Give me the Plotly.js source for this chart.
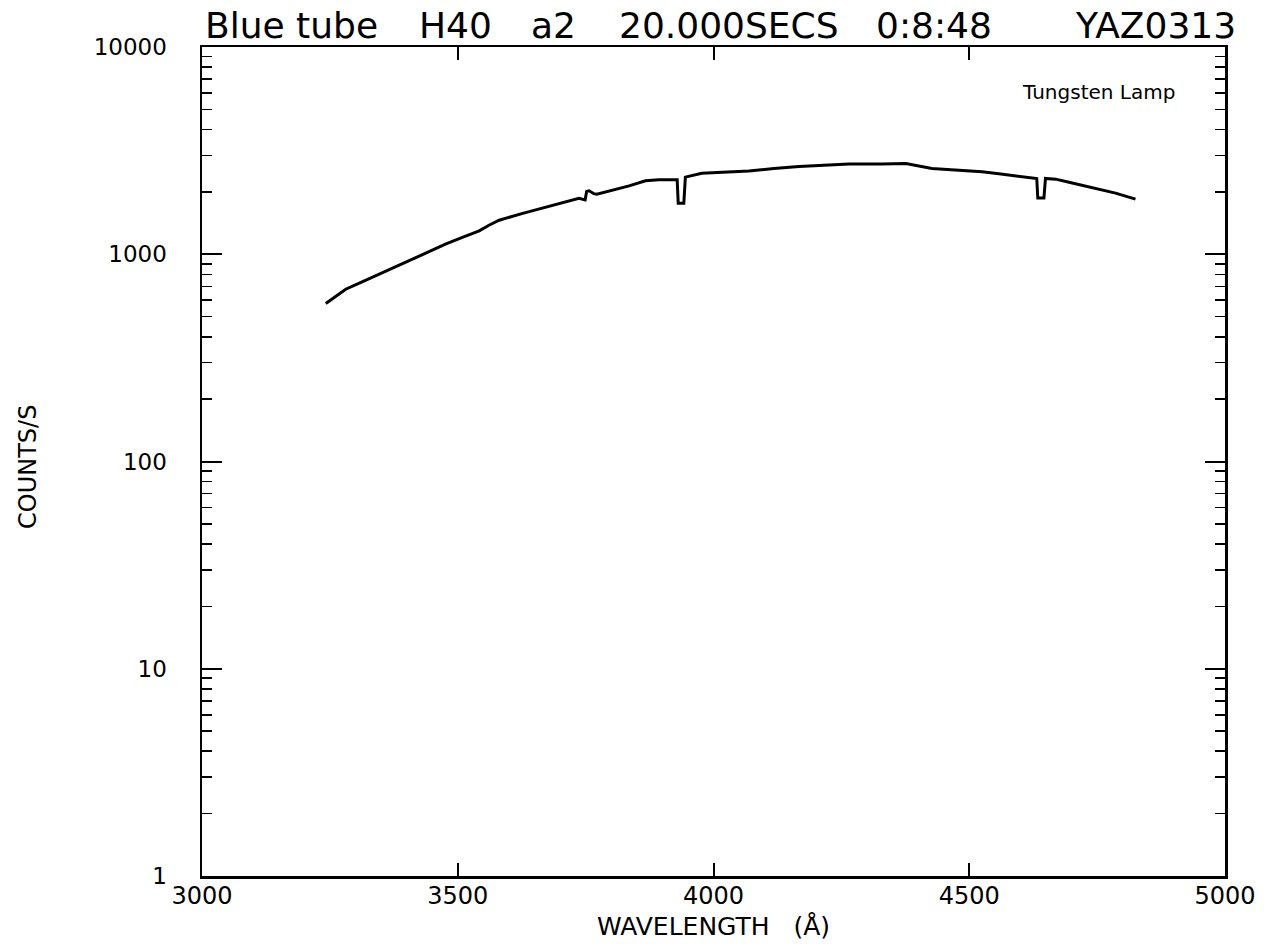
<!DOCTYPE html>
<html>
<head>
<meta charset="utf-8">
<script src="https://cdn.plot.ly/plotly-3.0.1.min.js"></script>
<style>html,body{margin:0;padding:0;background:#fff;}</style>
</head>
<body>
<div id="chart" style="width:1277px;height:947px;"></div>
<script>
// Wavelength (Å)
const wavelength = [3242, 3262, 3281, 3313, 3346, 3378, 3411, 3444, 3476, 3509, 3542, 3561, 3581, 3627, 3672, 3705, 3737, 3749, 3752, 3757, 3766, 3772, 3804, 3835, 3867, 3893, 3929, 3931, 3942, 3945, 3977, 4023, 4069, 4118, 4167, 4216, 4265, 4329, 4376, 4427, 4476, 4525, 4558, 4591, 4632, 4634, 4646, 4649, 4669, 4695, 4720, 4753, 4786, 4825];
// Counts per second
const counts = [578, 625, 678, 735, 800, 868, 946, 1030, 1118, 1205, 1297, 1380, 1460, 1575, 1682, 1770, 1860, 1830, 2010, 2023, 1960, 1950, 2040, 2138, 2261, 2286, 2286, 1763, 1763, 2356, 2461, 2495, 2523, 2590, 2653, 2690, 2722, 2722, 2741, 2594, 2550, 2500, 2445, 2390, 2321, 1866, 1866, 2321, 2303, 2225, 2153, 2060, 1972, 1845];

const xTickVals = [3000, 3500, 4000, 4500, 5000];
const xTickText = ["3000", "3500", "4000", "4500", "5000"];
const yTickVals = [1, 10, 100, 1000, 10000];
const yTickText = ["1", "10", "100", "1000", "10000"];
const yMinorVals = [];
[1, 10, 100, 1000].forEach(d => { for (let k = 2; k <= 9; k++) yMinorVals.push(k * d); });

const titleParts = ["Blue tube", "H40", "a2", "20.000SECS", "0:8:48", "YAZ0313"];
const titleCenters = [291, 455, 553, 729, 934, 1155];

const L = 202, R = 1225, T = 47, B = 876;
const W = R - L, H = B - T;
const px2paperX = p => (p - L) / W;
const px2paperY = p => (B - p) / H;

const font = "DejaVu Sans, Liberation Sans, sans-serif";

const annotations = titleParts.map((t, i) => ({
  text: t, xref: "paper", yref: "paper",
  x: px2paperX(titleCenters[i]), y: px2paperY(25),
  xanchor: "center", yanchor: "middle", showarrow: false,
  font: {family: font, size: 36, color: "#000"}
}));
annotations.push({
  text: "Tungsten Lamp", xref: "paper", yref: "paper",
  x: px2paperX(1020), y: px2paperY(92), xanchor: "left", yanchor: "middle",
  showarrow: false, font: {family: font, size: 20, color: "#000"}
});
annotations.push({
  text: "COUNTS/S", xref: "paper", yref: "paper",
  x: px2paperX(28), y: px2paperY(467), xanchor: "center", yanchor: "middle",
  textangle: -90, showarrow: false,
  font: {family: font, size: 24, color: "#000"}
});

const trace = {
  x: wavelength, y: counts, type: "scatter", mode: "lines",
  line: {color: "#000", width: 3}, hoverinfo: "x+y"
};

const layout = {
  width: 1277, height: 947,
  margin: {l: L, r: 1277 - R, t: T, b: 947 - B, pad: 0},
  paper_bgcolor: "#fff", plot_bgcolor: "#fff",
  showlegend: false,
  xaxis: {
    range: [3000, 5000], showgrid: false, zeroline: false,
    showline: true, linecolor: "#000", linewidth: 2.5, mirror: "ticks",
    ticks: "inside", ticklen: 13, tickwidth: 2, tickcolor: "#000",
    tickmode: "array", tickvals: xTickVals, ticktext: xTickText,
    tickfont: {family: font, size: 24, color: "#000"},
    ticklabelstandoff: -3,
    title: {text: "WAVELENGTH\u00a0\u00a0\u00a0(Å)", font: {family: font, size: 25, color: "#000"}, standoff: 8}
  },
  yaxis: {
    type: "log", range: [0, 4], showgrid: false, zeroline: false,
    showline: true, linecolor: "#000", linewidth: 2.5, mirror: "ticks",
    ticks: "inside", ticklen: 20, tickwidth: 2, tickcolor: "#000",
    tickmode: "array", tickvals: yTickVals, ticktext: yTickText,
    tickfont: {family: font, size: 23, color: "#000"},
    ticklabelstandoff: 28,
    minor: {ticks: "inside", ticklen: 10, tickwidth: 1.6, tickcolor: "#000", tickmode: "array", tickvals: yMinorVals, showgrid: false}
  },
  annotations: annotations
};

Plotly.newPlot("chart", [trace], layout, {displayModeBar: false, staticPlot: true});
</script>
</body>
</html>
